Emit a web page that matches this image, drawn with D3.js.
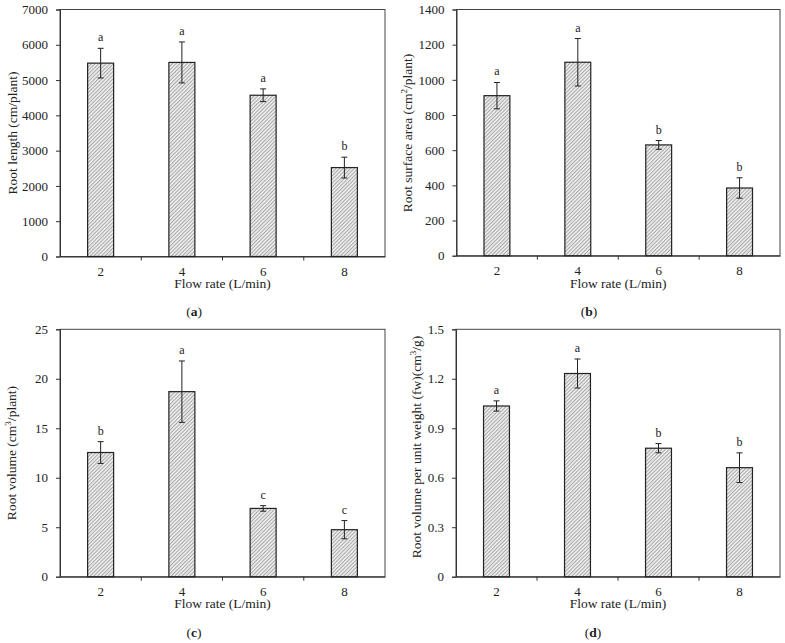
<!DOCTYPE html>
<html><head><meta charset="utf-8">
<script src="https://cdn.jsdelivr.net/npm/d3@7/dist/d3.min.js"></script>
<style>body{margin:0;background:#fff}svg{display:block}text{font-family:"Liberation Serif","Times New Roman",serif;fill:#222}</style>
</head><body>
<svg id="c" width="785" height="643"></svg>
<script>
const categories = ["2","4","6","8"];
const rootLength = [5480, 5500, 4570, 2520];
const rootLengthErr = [420, 580, 180, 295];
const rootLengthSig = ["a","a","a","b"];
const surfaceArea = [910, 1100, 630, 385];
const surfaceAreaErr = [75, 135, 25, 58];
const surfaceAreaSig = ["a","a","b","b"];
const rootVolume = [12.55, 18.7, 6.9, 4.75];
const rootVolumeErr = [1.1, 3.1, 0.28, 0.92];
const rootVolumeSig = ["b","a","c","c"];
const volPerWeight = [1.035, 1.232, 0.779, 0.661];
const volPerWeightErr = [0.031, 0.088, 0.028, 0.09];
const volPerWeightSig = ["a","a","b","b"];
const ticksA = [0,1000,2000,3000,4000,5000,6000,7000];
const ticksB = [0,200,400,600,800,1000,1200,1400];
const ticksC = [0,5,10,15,20,25];
const ticksD = [0,0.3,0.6,0.9,1.2,1.5];

const svg = d3.select("#c");
const defs = svg.append("defs");
const pat = defs.append("pattern").attr("id","hatch").attr("patternUnits","userSpaceOnUse")
  .attr("width",2.6).attr("height",2.6).attr("patternTransform","rotate(-45)");
pat.append("rect").attr("width",2.6).attr("height",2.6).attr("fill","#eeeeee");
pat.append("rect").attr("width",2.6).attr("height",1).attr("fill","#a8a8a8");

function panel(o){
  const g = svg.append("g");
  const x = d3.scaleBand().domain(categories).range([o.l,o.r]).padding(0);
  const y = d3.scaleLinear().domain([0,o.max]).range([o.b,o.t]);
  g.append("rect").attr("x",o.l).attr("y",o.t).attr("width",o.r-o.l).attr("height",o.b-o.t)
    .attr("fill","none").attr("stroke","#444").attr("stroke-width",1);
  const ya = g.append("g").attr("transform",`translate(${o.l},0)`)
    .call(d3.axisLeft(y).tickValues(o.ticks).tickSize(4).tickPadding(8).tickFormat(o.fmt||(d=>d)));
  ya.select(".domain").attr("stroke","#333");
  ya.selectAll("line").attr("stroke","#333");
  ya.selectAll("text").style("font-size","13px").attr("fill","#222").style("font-family","'Liberation Serif'");
  const xa = g.append("g").attr("transform",`translate(0,${o.b})`)
    .call(d3.axisBottom(x).tickSize(0).tickPadding(10));
  xa.select(".domain").attr("stroke","#333");
  xa.selectAll("text").style("font-size","13px").attr("fill","#222").style("font-family","'Liberation Serif'");
  g.selectAll(".bt").data(categories.slice(1)).join("line")
    .attr("x1",d=>x(d)).attr("x2",d=>x(d)).attr("y1",o.b).attr("y2",o.b+4).attr("stroke","#333");
  const bw = x.bandwidth()*0.32;
  const cx = d=>x(d)+x.bandwidth()/2;
  g.selectAll(".bar").data(categories).join("rect")
    .attr("x",(d)=>cx(d)-bw/2).attr("width",bw)
    .attr("y",(d,i)=>y(o.vals[i])).attr("height",(d,i)=>o.b-y(o.vals[i]))
    .attr("fill","url(#hatch)").attr("stroke","#222").attr("stroke-width",1.2);
  const eb = g.selectAll(".eb").data(categories).join("g");
  eb.append("line").attr("x1",cx).attr("x2",cx)
    .attr("y1",(d,i)=>y(o.vals[i]+o.err[i])).attr("y2",(d,i)=>y(o.vals[i]-o.err[i])).attr("stroke","#222");
  [1,-1].forEach(s=>{
    eb.append("line").attr("x1",d=>cx(d)-3).attr("x2",d=>cx(d)+3)
      .attr("y1",(d,i)=>y(o.vals[i]+s*o.err[i])).attr("y2",(d,i)=>y(o.vals[i]+s*o.err[i])).attr("stroke","#222");
  });
  g.selectAll(".sig").data(categories).join("text")
    .attr("x",cx).attr("y",(d,i)=>y(o.vals[i]+o.err[i])-7)
    .attr("text-anchor","middle").style("font-size","12px").text((d,i)=>o.sig[i]);
  g.append("text").attr("x",(o.l+o.r)/2).attr("y",o.xtY).attr("text-anchor","middle")
    .style("font-size","13.5px").text("Flow rate (L/min)");
  const yt = g.append("text").attr("transform",`translate(${o.ytX},${o.ytY}) rotate(-90)`)
    .attr("text-anchor","middle").style("font-size","13.5px");
  o.ytitle.forEach(p=>{
    const t = yt.append("tspan").text(p[0]);
    if(p[1]) t.attr("baseline-shift","super").style("font-size","9px");
  });
  const pl = svg.append("text").attr("x",o.pX).attr("y",o.pY).attr("text-anchor","middle").style("font-size","13.5px");
  pl.append("tspan").text("(");
  pl.append("tspan").style("font-weight","bold").text(o.letter);
  pl.append("tspan").text(")");
}

panel({l:60,r:385,t:9.5,b:256.5,max:7000,ticks:ticksA,vals:rootLength,err:rootLengthErr,sig:rootLengthSig,
  xtY:288,ytX:17,ytY:133,ytitle:[["Root length (cm/plant)"]],pX:194,pY:316,letter:"a"});
panel({l:456.5,r:780,t:9.5,b:255.7,max:1400,ticks:ticksB,vals:surfaceArea,err:surfaceAreaErr,sig:surfaceAreaSig,
  xtY:288,ytX:412,ytY:133,ytitle:[["Root surface area (cm"],["2",1],["/plant)"]],pX:589,pY:316,letter:"b"});
panel({l:60,r:385,t:329.3,b:576.7,max:25,ticks:ticksC,vals:rootVolume,err:rootVolumeErr,sig:rootVolumeSig,
  xtY:608,ytX:16,ytY:453,ytitle:[["Root volume (cm"],["3",1],["/plant)"]],pX:194,pY:637,letter:"c"});
panel({l:456,r:780,t:329.3,b:576.7,max:1.5,ticks:ticksD,vals:volPerWeight,err:volPerWeightErr,sig:volPerWeightSig,
  fmt:d=>d===0?"0":d3.format(".1f")(d),
  xtY:608,ytX:421,ytY:447,ytitle:[["Root volume per unit weight (fw)(cm"],["3",1],["/g)"]],pX:593,pY:637,letter:"d"});
</script>
</body></html>
